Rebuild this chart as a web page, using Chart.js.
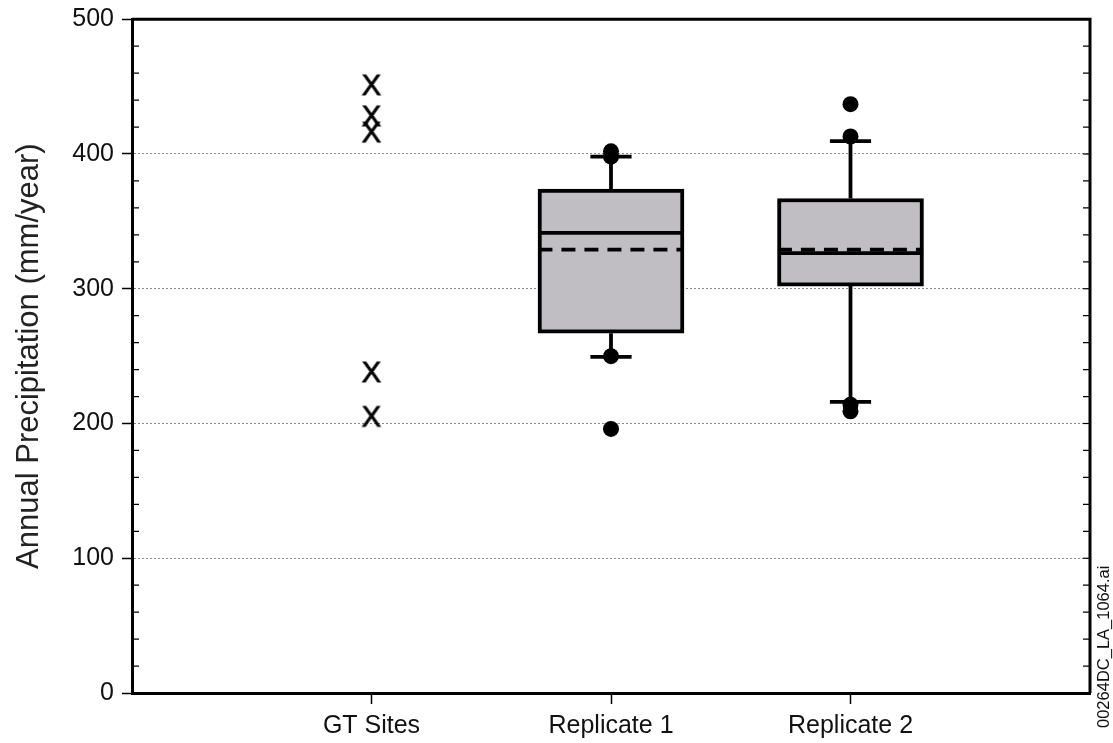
<!DOCTYPE html>
<html>
<head>
<meta charset="utf-8">
<script src="https://cdn.jsdelivr.net/npm/chart.js@4.4.0/dist/chart.umd.min.js"></script>
<style>
  html, body { margin: 0; padding: 0; background: #fff; }
  #wrap { width: 1113px; height: 743px; }
</style>
</head>
<body>
<div id="wrap"><canvas id="chart" width="1113" height="743"></canvas></div>
<script>
// data
const categories = ['GT Sites', 'Replicate 1', 'Replicate 2'];
const gtSites = [452, 429, 417, 239, 206];
const boxQ1 = [267, 302];
const boxQ3 = [374, 367];
const boxMedian = [341.5, 326.5];
const boxMean = [329, 329];
const whiskerLow = [249.5, 216];
const whiskerHigh = [398, 409.5];
const outliers1 = [402, 398, 250, 196];
const outliers2 = [437, 413, 214, 209];

const FONT = "'Liberation Sans', Arial, sans-serif";
const BOX_HALF = 0.303;
const CAP_HALF = 0.086;

// "X" glyph used as the marker for the GT sites
const xMark = document.createElement('canvas');
xMark.width = 32; xMark.height = 32;
const g = xMark.getContext('2d');
g.font = '29px ' + FONT;
g.textAlign = 'center';
g.textBaseline = 'alphabetic';
g.fillStyle = '#000';
g.strokeStyle = '#000';
g.lineWidth = 0.8;
g.fillText('X', 16, 26.5);
g.strokeText('X', 16, 26.5);

let datasets = [];

// GT sites markers
datasets.push({
    type: 'scatter',
    data: gtSites.map(v => ({ x: 1, y: v })),
    pointStyle: xMark,
    pointRadius: 10,
    order: 1
});

// outlier dots
[outliers1, outliers2].forEach((arr, i) => {
    datasets.push({
        type: 'scatter',
        data: arr.map(v => ({ x: i + 2, y: v })),
        pointStyle: 'circle',
        pointRadius: 8,
        backgroundColor: '#000',
        borderColor: '#000',
        borderWidth: 0,
        order: 1
    });
});

// boxes
datasets.push({
    type: 'bar',
    data: boxQ1.map((q, i) => ({ x: i + 2, y: [q, boxQ3[i]] })),
    backgroundColor: '#c0bec2',
    borderColor: '#000',
    borderWidth: 4,
    borderSkipped: false,
    barThickness: 146,
    grouped: false,
    order: 5
});

function seg(x1, y1, x2, y2, dash) {
    datasets.push({
        type: 'line',
        data: [{ x: x1, y: y1 }, { x: x2, y: y2 }],
        borderColor: '#000',
        borderWidth: 3.8,
        borderDash: dash || [],
        pointRadius: 0,
        fill: false,
        order: 3
    });
}

boxQ1.forEach((q, i) => {
    let xc = i + 2;
    seg(xc, boxQ3[i], xc, whiskerHigh[i]);
    seg(xc, q, xc, whiskerLow[i]);
    seg(xc - CAP_HALF, whiskerHigh[i], xc + CAP_HALF, whiskerHigh[i]);
    seg(xc - CAP_HALF, whiskerLow[i], xc + CAP_HALF, whiskerLow[i]);
    seg(xc - BOX_HALF, boxMedian[i], xc + BOX_HALF, boxMedian[i]);
    seg(xc - BOX_HALF, boxMean[i], xc + BOX_HALF, boxMean[i], [14, 9]);
});

// frame, inner minor ticks and file tag
const extras = {
    id: 'extras',
    afterDraw(chart) {
        const ctx = chart.ctx;
        const a = chart.chartArea;
        const y = chart.scales.y;
        ctx.save();
        ctx.strokeStyle = '#000';
        ctx.lineWidth = 3;
        ctx.beginPath();
        ctx.moveTo(a.left, a.top);
        ctx.lineTo(a.right, a.top);
        ctx.lineTo(a.right, a.bottom);
        ctx.stroke();
        ctx.lineWidth = 1.2;
        for (let v = 20; v < 500; v += 20) {
            let py = y.getPixelForValue(v);
            ctx.beginPath();
            if (v % 100 !== 0) {
                ctx.moveTo(a.left, py);
                ctx.lineTo(a.left + 7, py);
            }
            ctx.moveTo(a.right, py);
            ctx.lineTo(a.right - 7, py);
            ctx.stroke();
        }
        ctx.translate(1104, 728);
        ctx.rotate(-Math.PI / 2);
        ctx.fillStyle = '#111';
        ctx.font = '16.5px ' + FONT;
        ctx.textAlign = 'left';
        ctx.textBaseline = 'middle';
        ctx.fillText('00264DC_LA_1064.ai', 0, 0);
        ctx.restore();
    }
};

new Chart(document.getElementById('chart'), {
    type: 'bar',
    data: { datasets: datasets },
    plugins: [extras],
    options: {
        responsive: false,
        animation: false,
        devicePixelRatio: 1,
        layout: { padding: { top: 14, right: 23, left: 0, bottom: 0 } },
        plugins: { legend: { display: false }, tooltip: { enabled: false } },
        scales: {
            x: {
                type: 'linear',
                min: 0,
                max: 4,
                offset: false,
                afterBuildTicks: s => { s.ticks = [1, 2, 3].map(v => ({ value: v })); },
                afterFit: s => { s.height = 50; },
                ticks: {
                    autoSkip: false,
                    maxRotation: 0,
                    padding: 7,
                    color: '#111',
                    font: { family: FONT, size: 25 },
                    callback: v => categories[v - 1]
                },
                grid: {
                    offset: false,
                    drawOnChartArea: false,
                    tickColor: '#000',
                    tickLength: 11,
                    tickWidth: 1.5
                },
                border: { color: '#000', width: 3 }
            },
            y: {
                min: 0,
                max: 500,
                afterFit: s => { s.width = 132; },
                ticks: {
                    stepSize: 100,
                    padding: 8,
                    color: '#111',
                    font: { family: FONT, size: 25, lineHeight: 0.9 }
                },
                grid: {
                    color: c => (c.tick && c.tick.value > 0 && c.tick.value < 500) ? '#8a8a8a' : 'rgba(0,0,0,0)',
                    lineWidth: 1,
                    tickColor: '#000',
                    tickLength: 10,
                    tickWidth: 1.5,
                    tickBorderDash: []
                },
                border: { color: '#000', width: 3, dash: [2, 2] },
                title: {
                    display: true,
                    text: 'Annual Precipitation (mm/year)',
                    color: '#222',
                    font: { family: FONT, size: 31 },
                    padding: { top: 11, bottom: 0 }
                }
            }
        }
    }
});
</script>
</body>
</html>
